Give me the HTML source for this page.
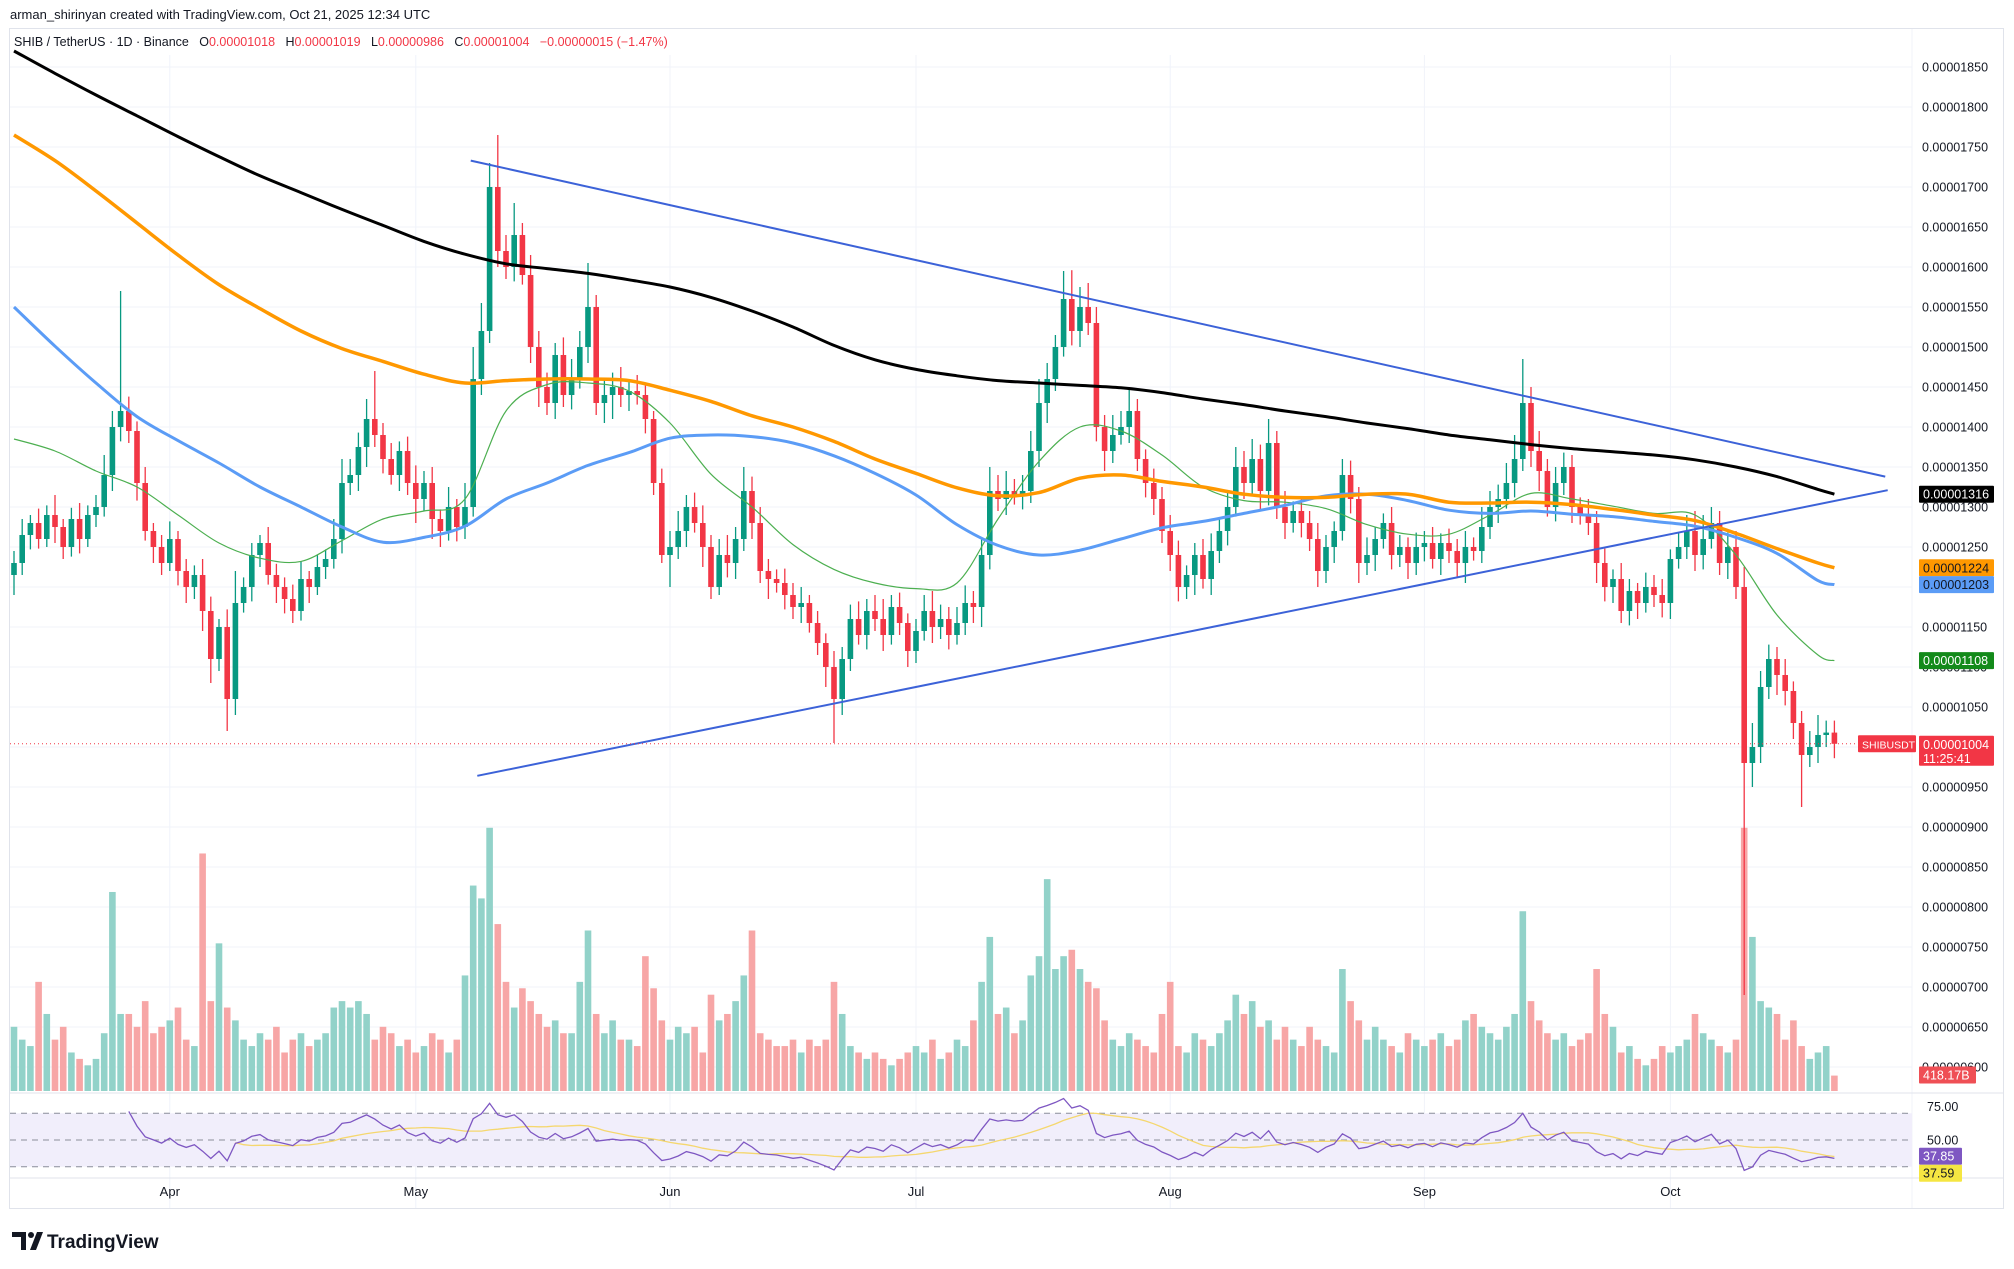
<!DOCTYPE html>
<html><head><meta charset="utf-8"><style>
html,body{margin:0;padding:0;background:#fff;}
svg{display:block;font-family:"Liberation Sans",sans-serif;}
</style></head><body>
<svg id="chart" xmlns="http://www.w3.org/2000/svg" width="2014" height="1269" viewBox="0 0 2014 1269">
<rect x="0" y="0" width="2014" height="1269" fill="#ffffff"/>
<text x="10" y="19" font-size="13" fill="#131722">arman_shirinyan created with TradingView.com, Oct 21, 2025 12:34 UTC</text>
<rect x="9.5" y="28.5" width="1994" height="1180" fill="none" stroke="#e0e3eb"/>
<line x1="1912" y1="29" x2="1912" y2="1208" stroke="#f0f3fa"/>
<g id="grid"></g>
<g id="rsiBg"></g>
<g id="vol"></g>
<g id="candles"></g>
<g id="mas"></g>
<g id="trend"></g>
<g id="rsi"></g>
<g id="axis"></g>
<g id="tags"></g>
<text x="14" y="46" font-size="12.5" fill="#131722" xml:space="preserve">SHIB / TetherUS · 1D · Binance   O<tspan fill="#f23645">0.00001018</tspan>   H<tspan fill="#f23645">0.00001019</tspan>   L<tspan fill="#f23645">0.00000986</tspan>   C<tspan fill="#f23645">0.00001004   −0.00000015 (−1.47%)</tspan></text>
<g>
<path d="M12 1232 h14 v18 h-5 v-13 h-9 z" fill="#131722"/>
<circle cx="31" cy="1235" r="3" fill="#131722"/>
<path d="M30 1250 l7 -18 h6 l-7 18 z" fill="#131722"/>
<text x="47" y="1248" font-size="19" font-weight="bold" fill="#131722">TradingView</text>
</g>
</svg>
<script>
const closes=[1230,1265,1280,1260,1290,1275,1250,1285,1260,1290,
1300,1340,1400,1420,1395,1330,1270,1250,1230,1260,
1220,1200,1215,1170,1110,1150,1060,1180,1200,1240,
1255,1215,1200,1185,1170,1210,1200,1225,1235,1260,
1330,1340,1375,1410,1390,1360,1340,1370,1330,1310,
1330,1285,1270,1300,1275,1300,1460,1520,1700,1620,
1600,1640,1590,1500,1450,1430,1490,1440,1460,1500,
1550,1430,1440,1450,1440,1445,1440,1410,1330,1240,
1250,1270,1300,1280,1250,1200,1240,1230,1260,1320,
1280,1220,1210,1205,1190,1175,1180,1155,1130,1100,
1060,1110,1160,1140,1170,1160,1140,1175,1155,1120,
1145,1170,1150,1160,1140,1155,1180,1175,1240,1320,
1310,1320,1315,1320,1370,1430,1460,1500,1560,1520,
1550,1530,1400,1370,1390,1400,1420,1360,1330,1310,
1270,1240,1200,1215,1240,1210,1245,1270,1300,1350,
1330,1360,1320,1380,1300,1280,1295,1280,1260,1220,
1250,1270,1340,1310,1230,1240,1260,1280,1240,1250,
1230,1250,1255,1235,1255,1245,1230,1250,1245,1275,
1300,1310,1330,1360,1430,1370,1345,1300,1330,1350,
1300,1290,1280,1230,1200,1210,1170,1195,1180,1200,
1190,1180,1235,1250,1270,1240,1260,1280,1230,1250,
1200,980,1000,1075,1110,1090,1070,1030,990,1000,
1015,1018,1004];
const firstOpen=1215;
const wickUp=[15,20,10,18,12,25,10,14,20,12,15,25,20,150,18,12,20,10,15,22,10,15,12,20,18,10,22,40,12,15,10,20,14,12,18,22,10,15,12,25,30,20,18,25,60,15,20,12,18,22,15,20,12,25,10,30,40,35,30,65,20,40,15,25,20,18,15,22,25,20,55,15,20,18,25,15,20,12,10,18,20,25,15,18,22,15,20,25,15,30,18,20,15,12,18,15,20,10,15,12,20,15,18,22,15,20,25,15,18,12,15,20,25,18,15,20,22,15,20,30,20,25,15,20,25,30,20,15,35,36,25,30,20,15,25,20,30,15,12,18,15,20,18,12,15,20,22,15,20,25,20,25,18,30,15,20,12,18,15,20,15,12,20,18,15,22,15,12,20,15,12,18,15,20,12,18,15,20,12,25,20,18,25,30,55,20,25,15,20,18,15,12,20,15,18,12,20,15,10,18,15,20,12,18,20,25,30,20,15,18,20,25,30,20,18,15,20,12,15,20,25,15,15];
const wickDn=[25,15,18,12,10,20,15,12,18,10,15,12,20,18,15,22,12,20,15,10,18,20,15,25,30,15,40,20,12,18,15,12,20,18,15,12,20,10,15,12,18,15,20,25,15,18,12,20,15,30,15,25,20,12,18,15,12,20,15,20,15,18,12,20,25,15,20,15,18,12,20,15,25,30,15,20,12,18,15,10,40,15,20,12,25,15,10,18,20,15,20,15,25,12,18,15,20,12,15,25,55,20,15,12,18,15,20,12,15,20,15,12,20,15,18,12,15,20,25,18,15,20,12,18,15,20,25,15,12,18,20,15,18,25,15,12,20,15,18,20,15,20,18,15,25,12,20,15,18,12,20,15,25,18,15,20,12,18,15,20,15,20,12,18,25,15,20,12,18,15,20,15,18,12,20,15,18,25,12,15,15,20,12,18,15,20,25,12,18,15,20,12,15,25,18,20,15,18,20,12,15,18,20,12,15,20,18,12,15,20,15,290,30,20,15,25,18,20,65,15,20,15,18];
const volume=[50,40,35,85,60,40,50,30,25,20,25,45,155,60,60,50,70,45,50,55,65,40,35,185,70,115,65,55,40,35,45,40,50,30,40,45,35,40,45,65,70,65,70,60,40,50,45,35,40,30,35,45,40,30,40,90,160,150,205,130,85,65,80,70,60,50,55,45,45,85,125,60,45,55,40,40,35,105,80,55,40,50,45,50,30,75,55,60,70,90,125,45,40,35,35,40,30,40,35,40,85,60,35,30,25,30,25,20,25,30,35,30,40,25,30,40,35,55,85,120,60,65,45,55,90,105,165,95,105,110,95,85,80,55,40,35,45,40,35,30,60,85,35,30,45,40,35,45,55,75,60,70,50,55,40,50,40,35,50,40,35,30,95,70,55,40,50,40,35,30,45,40,35,40,45,35,40,55,60,50,45,40,50,60,140,70,55,45,40,45,35,40,45,95,60,50,30,35,25,20,25,35,30,35,40,60,45,40,35,30,40,205,120,70,65,60,40,55,35,25,30,35,12];
const maIdx=[0,5,10,15,20,25,30,35,40,45,50,55,60,65,70,75,80,85,90,95,100,105,110,115,120,125,130,135,140,145,150,155,160,165,170,175,180,185,190,195,200,205,210,215,220,222];
const ma200=[1870,1842,1815,1789,1763,1738,1714,1693,1672,1652,1632,1616,1604,1598,1592,1584,1575,1562,1545,1525,1502,1484,1472,1464,1458,1455,1452,1449,1443,1435,1428,1420,1413,1405,1398,1390,1384,1378,1373,1369,1365,1359,1350,1338,1322,1316];
const ma100=[1765,1733,1695,1655,1615,1578,1548,1520,1498,1482,1466,1455,1458,1460,1460,1458,1446,1432,1414,1400,1382,1360,1342,1324,1314,1318,1336,1340,1332,1325,1316,1312,1312,1316,1316,1306,1305,1306,1303,1297,1290,1283,1267,1248,1230,1224];
const ma50=[1550,1501,1455,1413,1383,1355,1325,1300,1275,1256,1262,1276,1310,1330,1352,1368,1386,1390,1388,1380,1364,1342,1315,1278,1252,1240,1246,1260,1274,1282,1292,1302,1314,1316,1308,1296,1292,1295,1291,1288,1282,1276,1262,1242,1208,1203];
const ma20=[1385,1370,1345,1325,1290,1255,1236,1232,1258,1285,1295,1310,1420,1453,1455,1445,1405,1341,1300,1253,1222,1205,1198,1205,1285,1357,1400,1395,1365,1325,1308,1306,1298,1278,1266,1266,1290,1317,1310,1301,1292,1290,1240,1165,1115,1108];
const upperTrend=[[55.7,1733],[228.2,1338]];
const lowerTrend=[[56.5,964],[228.5,1321]];
const priceTicks=[600,650,700,750,800,850,900,950,1000,1050,1100,1150,1200,1250,1300,1350,1400,1450,1500,1550,1600,1650,1700,1750,1800,1850];
const monthLabels=["Apr","May","Jun","Jul","Aug","Sep","Oct"];
const monthIdx=[19,49,80,110,141,172,202];

const NS="http://www.w3.org/2000/svg";
function mk(tag,attrs,parent,txt){const e=document.createElementNS(NS,tag);for(const k in attrs)e.setAttribute(k,attrs[k]);if(txt!==undefined)e.textContent=txt;parent.appendChild(e);return e;}
const xS=i=>14+i*8.2;
const yP=p=>507-(p-1300)*0.8;
const yV=v=>1091-v*1.284;
const yR=r=>1140-(r-50)*1.335;
const G=id=>document.getElementById(id);

const grid=G('grid');
priceTicks.forEach(p=>{const l=mk('line',{x1:10,x2:1912,y1:yP(p),y2:yP(p),stroke:'#f0f3fa'},grid);

});
monthIdx.forEach((mi,k)=>{const l=mk('line',{x1:xS(mi),x2:xS(mi),y1:55,y2:1208,stroke:'#f0f3fa'},grid);


const t=mk('text',{x:xS(mi),y:1196,'font-size':13,'text-anchor':'middle',fill:'#131722'},grid,monthLabels[k]);

});
mk('line',{x1:10,x2:2004,y1:1093,y2:1093,stroke:'#e0e3eb'},grid);
mk('line',{x1:10,x2:2004,y1:1178,y2:1178,stroke:'#e0e3eb'},grid);

const rb=G('rsiBg');
mk('rect',{x:10,y:yR(70),width:1902,height:yR(30)-yR(70),fill:'#f1eefb'},rb);
[70,50,30].forEach(v=>{const l=mk('line',{x1:10,x2:1912,y1:yR(v),y2:yR(v),stroke:'#8a8e99','stroke-dasharray':'6,5','stroke-width':1},rb);

});

const cg=G('candles'),vg=G('vol');
closes.forEach((c,i)=>{
 const o=i===0?firstOpen:closes[i-1];
 const up=c>=o;
 const hi=Math.max(o,c)+wickUp[i], lo=Math.min(o,c)-wickDn[i];
 const col=up?'#089981':'#f23645';
 const x=xS(i);
 const w=mk('line',{x1:x,x2:x,y1:yP(hi),y2:yP(lo),stroke:col,'stroke-width':1.3},cg);
 
 
 const yt=yP(Math.max(o,c)), yb=yP(Math.min(o,c));
 const b=mk('rect',{x:x-2.8,y:yt,width:5.6,height:Math.max(1.2,yb-yt),fill:col},cg);
 
 
 const vb=mk('rect',{x:x-3.3,y:yV(volume[i]),width:6.6,height:1091-yV(volume[i]),fill:up?'#92d2c9':'#f7a6a6'},vg);
 
 
});

const mg=G('mas');
function maLine(arr,col,w,name){
 const pts=arr.map((v,k)=>[xS(maIdx[k]),yP(v)]);
 let d='M'+pts[0][0].toFixed(1)+' '+pts[0][1].toFixed(1);
 for(let k=1;k<pts.length;k++){const p0=pts[Math.max(0,k-2)],p1=pts[k-1],p2=pts[k],p3=pts[Math.min(pts.length-1,k+1)];
  const c1x=p1[0]+(p2[0]-p0[0])/6,c1y=p1[1]+(p2[1]-p0[1])/6,c2x=p2[0]-(p3[0]-p1[0])/6,c2y=p2[1]-(p3[1]-p1[1])/6;
  d+=' C'+c1x.toFixed(1)+' '+c1y.toFixed(1)+' '+c2x.toFixed(1)+' '+c2y.toFixed(1)+' '+p2[0].toFixed(1)+' '+p2[1].toFixed(1);}
 const p=mk('path',{d:d,fill:'none',stroke:col,'stroke-width':w,'stroke-linejoin':'round'},mg);
 
 }
maLine(ma20,'#4caf50',1.2,'ma20-line');
maLine(ma50,'#5b9cf6',3,'ma50-line');
maLine(ma100,'#ff9800',3.5,'ma100-line');
maLine(ma200,'#000000',3,'ma200-line');

const tg=G('trend');
[upperTrend,lowerTrend].forEach((t,k)=>{const l=mk('line',{x1:xS(t[0][0]),y1:yP(t[0][1]),x2:xS(t[1][0]),y2:yP(t[1][1]),stroke:'#3c62d8','stroke-width':2},tg);

});

const last=closes[closes.length-1];
mk('line',{x1:10,x2:1912,y1:yP(last),y2:yP(last),stroke:'#f23645','stroke-dasharray':'1,3','stroke-width':1},tg);

const rsi=[];let ag=0,al=0;
for(let i=1;i<closes.length;i++){const d=closes[i]-closes[i-1];const g=Math.max(d,0),l=Math.max(-d,0);
 if(i<=14){ag+=g/14;al+=l/14;if(i===14)rsi[i]=100-100/(1+ag/(al||1e-9));}
 else{ag=(ag*13+g)/14;al=(al*13+l)/14;rsi[i]=100-100/(1+ag/(al||1e-9));}}
const sig=[];for(let i=27;i<closes.length;i++){let s=0;for(let j=i-13;j<=i;j++)s+=rsi[j];sig[i]=s/14;}
const rg=G('rsi');
let d1='';for(let i=14;i<closes.length;i++)d1+=(i===14?'M':'L')+xS(i).toFixed(1)+' '+yR(rsi[i]).toFixed(1)+' ';
let d2='';for(let i=27;i<closes.length;i++)d2+=(i===27?'M':'L')+xS(i).toFixed(1)+' '+yR(sig[i]).toFixed(1)+' ';
const sl=mk('path',{d:d2,fill:'none',stroke:'#f5d76e','stroke-width':1.3},rg);


const rl=mk('path',{d:d1,fill:'none',stroke:'#7e57c2','stroke-width':1.3},rg);



const ag2=G('axis');
priceTicks.forEach(p=>{const t=mk('text',{x:1922,y:yP(p)+4.5,'font-size':12.5,fill:'#131722'},ag2,(p/1e8).toFixed(8));

});
[[75,'75.00'],[50,'50.00']].forEach(a=>{const t=mk('text',{x:1927,y:yR(a[0])+4.5,'font-size':12.5,fill:'#131722'},ag2,a[1]);

});

const tgs=G('tags');
function tag(y,bg,fg,txt,name,x,w,h,fs){x=x||1919;w=w||75;h=h||17;fs=fs||12.5;
const g=mk('g',{},tgs);


mk('rect',{x:x,y:y-h/2,width:w,height:h,fill:bg,rx:1},g);
mk('text',{x:x+4,y:y+4.5,'font-size':fs,fill:fg},g,txt);return g;}
tag(yP(ma200[ma200.length-1]),'#000000','#ffffff','0.00001316','ma200-tag');
tag(yP(ma100[ma100.length-1]),'#ff9800','#131722','0.00001224','ma100-tag');
tag(yP(ma50[ma50.length-1]),'#5b9cf6','#131722','0.00001203','ma50-tag');
tag(yP(ma20[ma20.length-1]),'#138a1a','#ffffff','0.00001108','ma20-tag');
tag(yP(last),'#f23645','#ffffff','SHIBUSDT','symbol-tag',1858,58,17,10.5);
const ct=mk('g',{},tgs);


mk('rect',{x:1919,y:yP(last)-8,width:75,height:30,fill:'#f23645',rx:1},ct);
mk('text',{x:1923,y:yP(last)+5,'font-size':12.5,fill:'#ffffff'},ct,'0.00001004');
mk('text',{x:1923,y:yP(last)+19,'font-size':12.5,fill:'#ffffff'},ct,'11:25:41');
tag(1075,'#ef4f55','#ffffff','418.17B','volume-tag',1919,57,17);
tag(yR(37.85),'#7e57c2','#ffffff','37.85','rsi-tag',1919,43,17);
tag(yR(37.85)+17,'#f5e642','#131722','37.59','rsi-signal-tag',1919,43,17);
</script>
</body></html>
